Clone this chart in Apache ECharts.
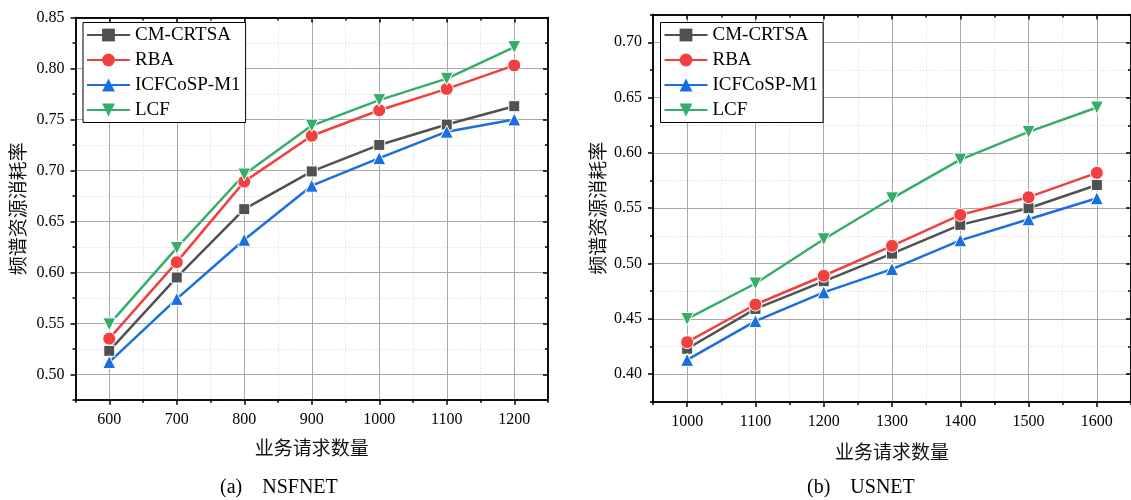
<!DOCTYPE html>
<html>
<head>
<meta charset="utf-8">
<script src="https://cdn.jsdelivr.net/npm/echarts@6/dist/echarts.min.js"></script>
<style>
  html, body { margin: 0; padding: 0; background: #fff; }
  #chart { width: 1131px; height: 500px; }
</style>
</head>
<body>
<div id="chart"></div>
<script>
// 数据 (a) NSFNET
const xA = [600, 700, 800, 900, 1000, 1100, 1200];
const cmA = [0.523, 0.595, 0.662, 0.699, 0.725, 0.745, 0.763];
const rbaA = [0.535, 0.610, 0.689, 0.734, 0.759, 0.780, 0.803];
const icA = [0.512, 0.574, 0.632, 0.685, 0.712, 0.738, 0.750];
const lcfA = [0.549, 0.624, 0.696, 0.744, 0.769, 0.790, 0.821];

// 数据 (b) USNET
const xB = [1000, 1100, 1200, 1300, 1400, 1500, 1600];
const cmB = [0.423, 0.459, 0.484, 0.509, 0.535, 0.550, 0.571];
const rbaB = [0.429, 0.463, 0.489, 0.516, 0.544, 0.560, 0.582];
const icB = [0.413, 0.448, 0.474, 0.495, 0.521, 0.540, 0.559];
const lcfB = [0.450, 0.482, 0.522, 0.559, 0.594, 0.619, 0.641];

// 刻度
const xMajorA = [600, 700, 800, 900, 1000, 1100, 1200];
const xMinorA = [550, 650, 750, 850, 950, 1050, 1150, 1250];
const yMajorA = [0.50, 0.55, 0.60, 0.65, 0.70, 0.75, 0.80, 0.85];
const yMinorA = [0.475, 0.525, 0.575, 0.625, 0.675, 0.725, 0.775, 0.825];
const xMajorB = [1000, 1100, 1200, 1300, 1400, 1500, 1600];
const xMinorB = [950, 1050, 1150, 1250, 1350, 1450, 1550, 1650];
const yMajorB = [0.40, 0.45, 0.50, 0.55, 0.60, 0.65, 0.70];
const yMinorB = [0.375, 0.425, 0.475, 0.525, 0.575, 0.625, 0.675, 0.725];

const names = ['CM-CRTSA', 'RBA', 'ICFCoSP-M1', 'LCF'];
const colors = ['#515151', '#F14040', '#1A6FDF', '#37AD6B'];
const symbols = ['rect', 'circle', 'triangle', 'path://M0,0 L10,0 L5,8.66 Z'];
const symbolSizes = [11, 13, 13, 13];

const FONT_EN = '"Liberation Serif", "Times New Roman", serif';
const FONT_CN = '"Noto Sans CJK SC", sans-serif';

// 一组坐标轴: 主刻度轴(带标签) + 次刻度轴 + 对侧镜像轴
function makeAxes(grid, min, max, major, minor, pos, opp, name, nameGap, fmt) {
    const line = { show: true, onZero: false, lineStyle: { color: '#000', width: 1.5 } };
    const main = {
        type: 'value', gridIndex: grid, min: min, max: max, position: pos,
        name: name, nameLocation: 'middle', nameGap: nameGap,
        nameTextStyle: { fontFamily: FONT_CN, fontSize: 19, color: '#111' },
        axisLine: line,
        axisTick: { show: true, inside: false, length: 5, customValues: major, lineStyle: { color: '#000', width: 1.5 } },
        axisLabel: { show: true, customValues: major, margin: pos === 'left' ? 11 : 12, fontFamily: FONT_EN, fontSize: 16, color: '#000', formatter: fmt },
        splitLine: { show: true, lineStyle: { color: '#a8a8a8', width: 1 } }
    };
    const sub = {
        type: 'value', gridIndex: grid, min: min, max: max, position: pos,
        axisLine: line,
        axisTick: { show: true, inside: false, length: 3, customValues: minor, lineStyle: { color: '#000', width: 1.5 } },
        axisLabel: { show: false },
        splitLine: { show: true, lineStyle: { color: '#d4d4d4', width: 1, type: [1, 2] } }
    };
    const mirror = (vals, len) => ({
        type: 'value', gridIndex: grid, min: min, max: max, position: opp,
        axisLine: line,
        axisTick: { show: true, inside: true, length: len, customValues: vals, lineStyle: { color: '#000', width: 1.5 } },
        axisLabel: { show: false },
        splitLine: { show: false }
    });
    return [main, sub, mirror(major, 5), mirror(minor, 3)];
}

function makeSeries(xs, ys, idx, axisIdx) {
    return {
        name: names[idx],
        type: 'line',
        xAxisIndex: axisIdx,
        yAxisIndex: axisIdx,
        data: xs.map((x, i) => [x, ys[i]]),
        symbol: symbols[idx],
        symbolSize: symbolSizes[idx],
        lineStyle: { color: colors[idx], width: 2.5 },
        itemStyle: { color: colors[idx], borderColor: '#fff', borderWidth: 1 },
        emphasis: { disabled: true },
        animation: false,
        z: 3
    };
}

function makeLegend(left) {
    return {
        data: names,
        left: left, top: 22.5,
        orient: 'vertical',
        itemWidth: 43, itemHeight: 16, itemGap: 6,
        padding: [3, 5, 3, 3],
        borderColor: '#000', borderWidth: 1,
        backgroundColor: '#fff',
        itemStyle: { borderWidth: 0 },
        textStyle: { fontFamily: FONT_EN, fontSize: 19, color: '#000', lineHeight: 19 },
        selectedMode: false
    };
}

const fmtX = v => String(Math.round(v));
const fmtY = v => v.toFixed(2);

const chart = echarts.init(document.getElementById('chart'), null, { renderer: 'canvas' });

const option = {
    backgroundColor: '#fff',
    animation: false,
    grid: [
        { left: 75.5, top: 17.5, width: 472.5, height: 382.3 },
        { left: 653, top: 14.6, width: 479.5, height: 387.3 }
    ],
    xAxis: [].concat(
        makeAxes(0, 550, 1250, xMajorA, xMinorA, 'bottom', 'top', '业务请求数量', 38, fmtX),
        makeAxes(1, 950, 1650, xMajorB, xMinorB, 'bottom', 'top', '业务请求数量', 40, fmtX)
    ),
    yAxis: [].concat(
        makeAxes(0, 0.475, 0.85, yMajorA, yMinorA, 'left', 'right', '频谱资源消耗率', 48, fmtY),
        makeAxes(1, 0.375, 0.725, yMajorB, yMinorB, 'left', 'right', '频谱资源消耗率', 46, fmtY)
    ),
    legend: [makeLegend(83), makeLegend(660.5)],
    series: [
        makeSeries(xA, cmA, 0, 0),
        makeSeries(xA, rbaA, 1, 0),
        makeSeries(xA, icA, 2, 0),
        makeSeries(xA, lcfA, 3, 0),
        makeSeries(xB, cmB, 0, 4),
        makeSeries(xB, rbaB, 1, 4),
        makeSeries(xB, icB, 2, 4),
        makeSeries(xB, lcfB, 3, 4)
    ],
    graphic: [
        { type: 'text', left: 220, top: 478, style: { text: '(a)    NSFNET', font: '20px ' + FONT_EN, fill: '#000' } },
        { type: 'text', left: 807, top: 478, style: { text: '(b)    USNET', font: '20px ' + FONT_EN, fill: '#000' } }
    ]
};

chart.setOption(option);
window.addEventListener('resize', () => chart.resize());
</script>
</body>
</html>
